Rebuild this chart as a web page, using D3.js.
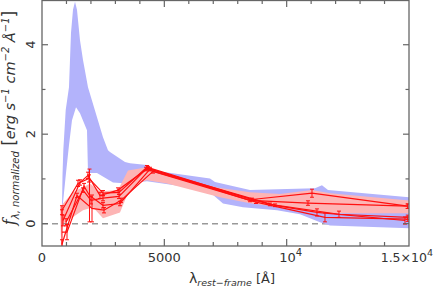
<!DOCTYPE html>
<html>
<head>
<meta charset="UTF-8">
<script src="https://d3js.org/d3.v7.min.js"></script>
<style>
  body { margin: 0; background: #fff; }
  svg text { font-family: "DejaVu Sans", sans-serif; fill: #333; }
</style>
</head>
<body>
<svg id="chart" width="436" height="296"></svg>
<script>
// ---- data ----
// blue envelope: upper and lower edge as separate lists
const blueUpLam = [817, 838, 871, 969, 1103, 1185, 1267, 1349, 1430, 1553, 1676, 1880, 2248, 2493, 2697, 2779, 3392, 3597, 4291, 4537, 6866, 7070, 8500, 11157, 11443, 11689, 15000];
const blueUpF   = [0.37, 1.08, 1.64, 2.54, 3.05, 4.26, 4.78, 4.96, 4.78, 4.10, 3.66, 3.05, 2.38, 1.93, 1.64, 1.60, 1.38, 1.35, 1.31, 1.19, 1.01, 0.93, 0.75, 0.79, 0.86, 0.75, 0.59];
const blueLoLam = [817, 981, 1103, 1226, 1390, 1553, 1839, 1880, 2248, 2902, 3474, 4291, 5500, 6866, 7397, 8215, 9605, 10545, 11362, 11770, 15000];
const blueLoF   = [0.25, 1.13, 1.75, 2.31, 2.60, 2.47, 2.09, 1.13, 1.13, 0.92, 0.90, 0.95, 0.85, 0.70, 0.45, 0.365, 0.30, 0.21, 0.03, -0.04, -0.105];

// red (pink) envelope
const redUpLam = [736, 1267, 1430, 1676, 1962, 2370, 3106, 3515, 4291, 4537, 7152, 8500, 9727, 11035, 11770, 15000];
const redUpF   = [0.37, 0.70, 0.75, 0.81, 0.90, 0.72, 0.75, 1.19, 1.26, 1.15, 0.81, 0.70, 0.66, 0.75, 0.68, 0.52];
const redLoLam = [777, 858, 1676, 2084, 2493, 3188, 3474, 4005, 4291, 5109, 7275, 8500, 9727, 11362, 15000];
const redLoF   = [-0.37, 0.0, 0.30, 0.365, 0.12, 0.25, 0.63, 0.92, 0.97, 0.90, 0.59, 0.455, 0.365, 0.23, 0.23];

// individual objects: wavelength, flux, error
const obj1Lam = [817, 1471, 1921, 2493, 3147, 4291, 8583, 11035, 14950];
const obj1F   = [0.30, 0.90, 1.01, 0.68, 0.70, 1.26, 0.54, 0.68, 0.39];
const obj1E   = [0.10, 0.07, 0.08, 0.06, 0.05, 0.04, 0.03, 0.09, 0.05];

const obj2Lam = [858, 1553, 1880, 2370, 3106, 4332, 8501, 10871, 14950];
const obj2F   = [0.07, 0.92, 1.08, 0.63, 0.75, 1.24, 0.52, 0.46, 0.39];
const obj2E   = [0.12, 0.06, 0.07, 0.07, 0.05, 0.04, 0.03, 0.05, 0.05];

const obj3Lam = [817, 1022, 1717, 1941, 2493, 3188, 4414, 9523, 11239, 14836];
const obj3F   = [-0.19, -0.19, 0.84, 0.63, 0.41, 0.45, 1.22, 0.41, 0.25, 0.07];
const obj3E   = [0.50, 0.17, 0.06, 0.59, 0.06, 0.05, 0.04, 0.03, 0.08, 0.08];

const obj4Lam = [817, 1430, 2044, 2534, 3229, 4537, 8746, 11566, 14950];
const obj4F   = [-0.46, 0.63, 0.34, 0.30, 0.52, 1.17, 0.48, 0.14, 0.10];
const obj4E   = [0.10, 0.05, 0.30, 0.06, 0.05, 0.04, 0.03, 0.10, 0.05];

const obj5Lam = [981, 1676, 2003, 2493, 3147, 4250, 9318, 12138, 14950];
const obj5F   = [0.03, 0.75, 0.52, 0.57, 0.61, 1.22, 0.43, 0.21, 0.14];
const obj5E   = [0.08, 0.05, 0.08, 0.06, 0.05, 0.04, 0.03, 0.07, 0.05];

const xMajor = [0, 5000, 10000, 15000];
const yMajor = [0, 2, 4];
const yMinor = [1, 3, 5];

// ---- layout ----
const svg = d3.select('#chart');
const pLeft = 42, pRight = 409, pTop = 0, pBottom = 246;

const x = d3.scaleLinear().domain([0, 15000]).range([pLeft, pRight]);
const y = d3.scaleLinear().domain([-0.5, 5]).range([pBottom, pTop]);

const plot = svg.append('g');
plot.append('clipPath').attr('id', 'clip')
  .append('rect').attr('x', pLeft).attr('y', pTop).attr('width', pRight - pLeft).attr('height', pBottom - pTop);
const inner = plot.append('g').attr('clip-path', 'url(#clip)');

// zero line
inner.append('line')
  .attr('x1', x(0)).attr('x2', x(15000))
  .attr('y1', y(0)).attr('y2', y(0))
  .attr('stroke', '#999').attr('stroke-width', 1.5).attr('stroke-dasharray', '6,4');

function band(upLam, upF, loLam, loF) {
  const pts = upLam.map((l, i) => [x(l), y(upF[i])]);
  for (let i = loLam.length - 1; i >= 0; i--) pts.push([x(loLam[i]), y(loF[i])]);
  return d3.line()(pts) + 'Z';
}

inner.append('path').attr('d', band(blueUpLam, blueUpF, blueLoLam, blueLoF)).attr('fill', '#b3b3fb');
inner.append('path').attr('d', band(redUpLam, redUpF, redLoLam, redLoF)).attr('fill', '#fdb5b5');

const objects = [
  [obj1Lam, obj1F, obj1E],
  [obj2Lam, obj2F, obj2E],
  [obj3Lam, obj3F, obj3E],
  [obj4Lam, obj4F, obj4E],
  [obj5Lam, obj5F, obj5E]
];

const line = d3.line().x(d => x(d[0])).y(d => y(d[1]));
objects.forEach(([lam, f, e]) => {
  const pts = lam.map((l, i) => [l, f[i], e[i]]);
  inner.append('path').attr('d', line(pts))
    .attr('fill', 'none').attr('stroke', '#ff1010').attr('stroke-width', 1.2);
  const eb = inner.append('g').attr('stroke', '#ff1010').attr('stroke-width', 1);
  pts.forEach(p => {
    const cx = x(p[0]);
    eb.append('line').attr('x1', cx).attr('x2', cx).attr('y1', y(p[1] - p[2])).attr('y2', y(p[1] + p[2]));
    [p[1] - p[2], p[1] + p[2]].forEach(v => {
      eb.append('line').attr('x1', cx - 2).attr('x2', cx + 2).attr('y1', y(v)).attr('y2', y(v));
    });
  });
});

// ---- frame and ticks ----
const axisCol = '#666';
plot.append('rect').attr('x', pLeft).attr('y', pTop + 0.5).attr('width', pRight - pLeft).attr('height', pBottom - pTop - 0.5)
  .attr('fill', 'none').attr('stroke', axisCol).attr('stroke-width', 1.3);

const ticks = plot.append('g').attr('stroke', axisCol).attr('stroke-width', 1.2);
d3.range(1000, 15000, 1000).forEach(v => {
  const len = xMajor.includes(v) ? 7 : 4;
  ticks.append('line').attr('x1', x(v)).attr('x2', x(v)).attr('y1', pBottom).attr('y2', pBottom - len);
  ticks.append('line').attr('x1', x(v)).attr('x2', x(v)).attr('y1', pTop).attr('y2', pTop + len);
});
yMajor.concat(yMinor).forEach(v => {
  const len = yMajor.includes(v) ? 6 : 3.5;
  ticks.append('line').attr('x1', pLeft).attr('x2', pLeft + len).attr('y1', y(v)).attr('y2', y(v));
  ticks.append('line').attr('x1', pRight).attr('x2', pRight - len).attr('y1', y(v)).attr('y2', y(v));
});

// x tick labels
const xl = plot.append('g').attr('font-size', 13).attr('text-anchor', 'middle');
xl.append('text').attr('x', x(0)).attr('y', 262).text('0');
xl.append('text').attr('x', x(5000)).attr('y', 262).text('5000');
const t4 = xl.append('text').attr('x', x(10000) + 4).attr('y', 262);
t4.append('tspan').text('10');
t4.append('tspan').attr('font-size', 10).attr('dy', -6).text('4');
const t15 = xl.append('text').attr('x', 433).attr('y', 262).attr('text-anchor', 'end').attr('font-size', 12.5);
t15.append('tspan').text('1.5×10');
t15.append('tspan').attr('font-size', 9.5).attr('dy', -6).text('4');

// y tick labels (rotated)
yMajor.forEach(v => {
  plot.append('text').attr('font-size', 13).attr('text-anchor', 'middle')
    .attr('transform', `translate(35,${y(v)}) rotate(-90)`).text(v);
});

// axis titles
const xt = svg.append('text').attr('x', 232).attr('y', 283).attr('text-anchor', 'middle').attr('font-size', 13);
xt.append('tspan').attr('font-size', 14).text('λ');
xt.append('tspan').attr('font-size', 9.5).attr('font-style', 'italic').attr('dy', 3).text('rest−frame');
xt.append('tspan').attr('dy', -3).text(' [Å]');

const yt = svg.append('text').attr('text-anchor', 'middle').attr('font-size', 14.5)
  .attr('transform', 'translate(15,118) rotate(-90)');
yt.append('tspan').attr('font-style', 'italic').attr('font-family', 'DejaVu Serif').attr('font-size', 16).text('f');
yt.append('tspan').attr('font-style', 'italic').attr('font-size', 10).attr('dy', 4).text('λ, normalized');
yt.append('tspan').attr('dy', -4).attr('font-size', 17).text(' [');
yt.append('tspan').attr('font-style', 'italic').text('erg s');
yt.append('tspan').attr('font-style', 'italic').attr('font-size', 10).attr('dy', -6).text('−1');
yt.append('tspan').attr('font-style', 'italic').attr('dy', 6).text(' cm');
yt.append('tspan').attr('font-style', 'italic').attr('font-size', 10).attr('dy', -6).text('−2');
yt.append('tspan').attr('font-style', 'italic').attr('dy', 6).text(' Å');
yt.append('tspan').attr('font-style', 'italic').attr('font-size', 10).attr('dy', -6).text('−1');
yt.append('tspan').attr('dy', 6).attr('font-size', 17).text(']');
</script>
</body>
</html>
